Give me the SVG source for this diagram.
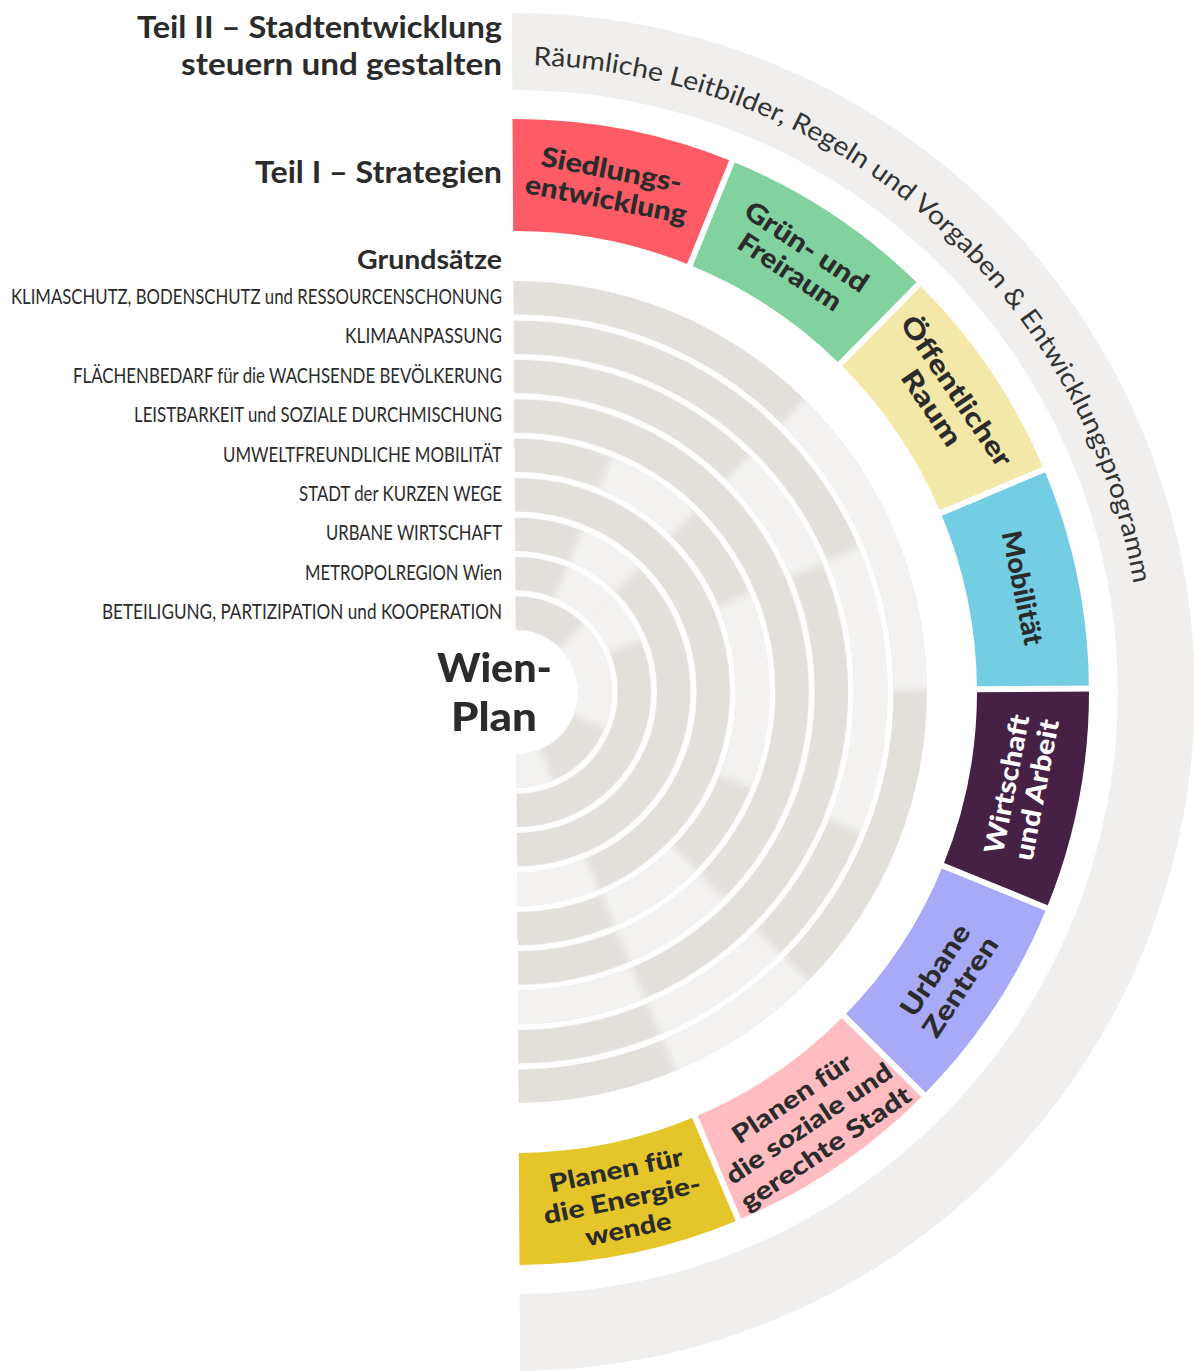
<svg xmlns="http://www.w3.org/2000/svg" xmlns:xlink="http://www.w3.org/1999/xlink" width="1194" height="1371" viewBox="0 0 1194 1371">
  <style>
    .t { font-family: Lato, "Open Sans", "Liberation Sans", sans-serif; fill: #2b2b2b; }
    .title { font-size: 31px; font-weight: 700; }
    .sub { font-size: 26px; font-weight: 700; }
    .gs { font-size: 21px; font-weight: 400; text-anchor: end; }
    .core { font-size: 40px; font-weight: 900; }
    .seg { font-size: 27px; font-weight: 900; text-anchor: middle; }
    .seg3 { font-size: 25px; font-weight: 900; text-anchor: middle; }
    .band-text { font-size: 26px; font-weight: 400; fill: #333; }
    .ring { fill: #e3e0dc; }
    .lit { fill: #f3f2f0; }
    .band { fill: #f0efed; }
  </style>
  <defs>
    <!-- half annuli for the nine Grundsatz rings (centre 516,692) -->
    <path id="ring1" d="M516,281 A411,411 0 0 1 516,1103 L516,1069.5 A377.5,377.5 0 0 0 516,314.5 Z"/>
    <path id="ring2" d="M516,320.4 A371.6,371.6 0 0 1 516,1063.6 L516,1030.1 A338.1,338.1 0 0 0 516,353.9 Z"/>
    <path id="ring3" d="M516,359.8 A332.2,332.2 0 0 1 516,1024.2 L516,990.7 A298.7,298.7 0 0 0 516,393.3 Z"/>
    <path id="ring4" d="M516,399.2 A292.8,292.8 0 0 1 516,984.8 L516,951.3 A259.3,259.3 0 0 0 516,432.7 Z"/>
    <path id="ring5" d="M516,438.6 A253.4,253.4 0 0 1 516,945.4 L516,911.9 A219.9,219.9 0 0 0 516,472.1 Z"/>
    <path id="ring6" d="M516,478 A214,214 0 0 1 516,906 L516,872.5 A180.5,180.5 0 0 0 516,511.5 Z"/>
    <path id="ring7" d="M516,517.4 A174.6,174.6 0 0 1 516,866.6 L516,833.1 A141.1,141.1 0 0 0 516,550.9 Z"/>
    <path id="ring8" d="M516,556.8 A135.2,135.2 0 0 1 516,827.2 L516,793.7 A101.7,101.7 0 0 0 516,590.3 Z"/>
    <path id="ring9" d="M516,596.2 A95.8,95.8 0 0 1 516,787.8 L516,754.3 A62.3,62.3 0 0 0 516,629.7 Z"/>
    <clipPath id="clip1"><use xlink:href="#ring1"/></clipPath>
    <clipPath id="clip2"><use xlink:href="#ring2"/></clipPath>
    <clipPath id="clip3"><use xlink:href="#ring3"/></clipPath>
    <clipPath id="clip4"><use xlink:href="#ring4"/></clipPath>
    <clipPath id="clip5"><use xlink:href="#ring5"/></clipPath>
    <clipPath id="clip6"><use xlink:href="#ring6"/></clipPath>
    <clipPath id="clip7"><use xlink:href="#ring7"/></clipPath>
    <clipPath id="clip8"><use xlink:href="#ring8"/></clipPath>
    <clipPath id="clip9"><use xlink:href="#ring9"/></clipPath>
    <!-- 22.5 degree wedge, rotated into place for each highlighted cell -->
    <path id="wedge" d="M516,692 L516,262 A430,430 0 0 1 680.55,294.73 Z"/>
    <!-- one strategy sector of the coloured ring -->
    <path id="sector" d="M516,119 A573,573 0 0 1 735.28,162.62 L692.42,266.09 A461,461 0 0 0 516,231 Z"/>
    <path id="bandArc" d="M516,65 A627,627 0 0 1 1133.47,800.88"/>
    <filter id="soft" x="-20%" y="-20%" width="140%" height="140%">
      <feGaussianBlur stdDeviation="3.5"/>
    </filter>
  </defs>

  <rect width="1194" height="1371" fill="#fff"/>

  <!-- headings -->
  <g id="headings">
    <text class="t title" x="137" y="37.5" textLength="365" lengthAdjust="spacingAndGlyphs">Teil II – Stadtentwicklung</text>
    <text class="t title" x="181" y="75" textLength="321" lengthAdjust="spacingAndGlyphs">steuern und gestalten</text>
    <text class="t title" x="255" y="183" textLength="247" lengthAdjust="spacingAndGlyphs">Teil I – Strategien</text>
    <text class="t sub" x="357" y="269" textLength="145" lengthAdjust="spacingAndGlyphs">Grundsätze</text>
  </g>

  <g id="disc" transform="rotate(-0.35 516 692)">
    <!-- Teil II: outer band -->
    <g id="teil-2">
      <path class="band" d="M516,13 A679,679 0 0 1 516,1371 L516,1294 A602,602 0 0 0 516,90 Z"/>
      <text class="t band-text"><textPath xlink:href="#bandArc" startOffset="21" textLength="859" lengthAdjust="spacingAndGlyphs">Räumliche Leitbilder, Regeln und Vorgaben &amp; Entwicklungsprogramm</textPath></text>
    </g>

    <!-- Teil I: strategy sectors -->
    <g id="strategien">
      <g id="s-siedlung">
        <use xlink:href="#sector" fill="#fd5b66"/>
        <text class="t seg" transform="rotate(11.25 612 185)"><tspan x="612" y="179.5" textLength="143" lengthAdjust="spacingAndGlyphs">Siedlungs-</tspan><tspan x="612" y="209.5" textLength="164" lengthAdjust="spacingAndGlyphs">entwicklung</tspan></text>
      </g>
      <g id="s-gruen">
        <use xlink:href="#sector" fill="#82d2a0" transform="rotate(22.5 516 692)"/>
        <text class="t seg" transform="rotate(33.75 801 261)"><tspan x="801" y="255.5" textLength="142" lengthAdjust="spacingAndGlyphs">Grün- und</tspan><tspan x="801" y="285.5" textLength="118" lengthAdjust="spacingAndGlyphs">Freiraum</tspan></text>
      </g>
      <g id="s-oeffentlich">
        <use xlink:href="#sector" fill="#f4e8a9" transform="rotate(45 516 692)"/>
        <text class="t seg" transform="rotate(56.25 945.9 402)"><tspan x="945.9" y="396.5" textLength="176" lengthAdjust="spacingAndGlyphs">Öffentlicher</tspan><tspan x="945.9" y="426.5" textLength="86" lengthAdjust="spacingAndGlyphs">Raum</tspan></text>
      </g>
      <g id="s-mobilitaet">
        <use xlink:href="#sector" fill="#73cde3" transform="rotate(67.5 516 692)"/>
        <text class="t seg" transform="rotate(78.75 1023.1 591.1)"><tspan x="1023.1" y="600.6" textLength="116" lengthAdjust="spacingAndGlyphs">Mobilität</tspan></text>
      </g>
      <g id="s-wirtschaft">
        <use xlink:href="#sector" fill="#472145" transform="rotate(90 516 692)"/>
        <text class="t seg" style="fill:#fff" transform="rotate(-78.75 1021 790)"><tspan x="1021" y="784.5" textLength="141" lengthAdjust="spacingAndGlyphs">Wirtschaft</tspan><tspan x="1021" y="814.5" textLength="143" lengthAdjust="spacingAndGlyphs">und Arbeit</tspan></text>
      </g>
      <g id="s-zentren">
        <use xlink:href="#sector" fill="#a9aaf7" transform="rotate(112.5 516 692)"/>
        <text class="t seg" transform="rotate(-56.25 945.9 981)"><tspan x="945.9" y="975.5" textLength="104" lengthAdjust="spacingAndGlyphs">Urbane</tspan><tspan x="945.9" y="1005.5" textLength="114" lengthAdjust="spacingAndGlyphs">Zentren</tspan></text>
      </g>
      <g id="s-sozial">
        <use xlink:href="#sector" fill="#ffbcc1" transform="rotate(135 516 692)"/>
        <text class="t seg3" transform="rotate(-33.75 806 1125)"><tspan x="806" y="1104" textLength="139" lengthAdjust="spacingAndGlyphs">Planen für</tspan><tspan x="806" y="1134" textLength="195" lengthAdjust="spacingAndGlyphs">die soziale und</tspan><tspan x="806" y="1164" textLength="200" lengthAdjust="spacingAndGlyphs">gerechte Stadt</tspan></text>
      </g>
      <g id="s-energie">
        <use xlink:href="#sector" fill="#e4c62b" transform="rotate(157.5 516 692)"/>
        <text class="t seg3" transform="rotate(-11.25 619 1200)"><tspan x="619" y="1179" textLength="136" lengthAdjust="spacingAndGlyphs">Planen für</tspan><tspan x="619" y="1209" textLength="160" lengthAdjust="spacingAndGlyphs">die Energie-</tspan><tspan x="619" y="1239" textLength="87" lengthAdjust="spacingAndGlyphs">wende</tspan></text>
      </g>
      <!-- white gaps between the sectors -->
      <g id="sector-gaps" stroke="#fff" stroke-width="6">
        <line x1="516" y1="237" x2="516" y2="110" transform="rotate(22.5 516 692)"/>
        <line x1="516" y1="237" x2="516" y2="110" transform="rotate(45 516 692)"/>
        <line x1="516" y1="237" x2="516" y2="110" transform="rotate(67.5 516 692)"/>
        <line x1="516" y1="237" x2="516" y2="110" transform="rotate(90 516 692)"/>
        <line x1="516" y1="237" x2="516" y2="110" transform="rotate(112.5 516 692)"/>
        <line x1="516" y1="237" x2="516" y2="110" transform="rotate(135 516 692)"/>
        <line x1="516" y1="237" x2="516" y2="110" transform="rotate(157.5 516 692)"/>
      </g>
    </g>

    <!-- Grundsätze: nine concentric rings with highlighted cells -->
    <g id="grundsaetze">
      <g id="gs-1">
        <use xlink:href="#ring1" class="ring"/>
        <g clip-path="url(#clip1)"><g class="lit" filter="url(#soft)">
          <use xlink:href="#wedge" transform="rotate(45 516 692)"/>
          <use xlink:href="#wedge" transform="rotate(67.5 516 692)"/>
          <use xlink:href="#wedge" transform="rotate(135 516 692)"/>
        </g></g>
      </g>
      <g id="gs-2">
        <use xlink:href="#ring2" class="ring"/>
        <g clip-path="url(#clip2)"><g class="lit" filter="url(#soft)">
          <use xlink:href="#wedge" transform="rotate(67.5 516 692)"/>
          <use xlink:href="#wedge" transform="rotate(90 516 692)"/>
          <use xlink:href="#wedge" transform="rotate(135 516 692)"/>
        </g></g>
      </g>
      <g id="gs-3">
        <use xlink:href="#ring3" class="ring"/>
        <g clip-path="url(#clip3)"><g class="lit" filter="url(#soft)">
          <use xlink:href="#wedge" transform="rotate(45 516 692)"/>
          <use xlink:href="#wedge" transform="rotate(157.5 516 692)"/>
          <use xlink:href="#wedge" transform="rotate(180 516 692)"/>
        </g></g>
      </g>
      <g id="gs-4">
        <use xlink:href="#ring4" class="ring"/>
        <g clip-path="url(#clip4)"><g class="lit" filter="url(#soft)">
          <use xlink:href="#wedge" transform="rotate(135 516 692)"/>
        </g></g>
      </g>
      <g id="gs-5">
        <use xlink:href="#ring5" class="ring"/>
        <g clip-path="url(#clip5)"><g class="lit" filter="url(#soft)">
          <use xlink:href="#wedge" transform="rotate(22.5 516 692)"/>
          <use xlink:href="#wedge" transform="rotate(67.5 516 692)"/>
          <use xlink:href="#wedge" transform="rotate(90 516 692)"/>
          <use xlink:href="#wedge" transform="rotate(135 516 692)"/>
        </g></g>
      </g>
      <g id="gs-6">
        <use xlink:href="#ring6" class="ring"/>
        <g clip-path="url(#clip6)"><g class="lit" filter="url(#soft)">
          <use xlink:href="#wedge" transform="rotate(157.5 516 692)"/>
          <use xlink:href="#wedge" transform="rotate(180 516 692)"/>
        </g></g>
      </g>
      <g id="gs-7">
        <use xlink:href="#ring7" class="ring"/>
        <g clip-path="url(#clip7)"><g class="lit" filter="url(#soft)">
          <use xlink:href="#wedge" transform="rotate(22.5 516 692)"/>
        </g></g>
      </g>
      <g id="gs-8">
        <use xlink:href="#ring8" class="ring"/>
        <g clip-path="url(#clip8)"><g class="lit" filter="url(#soft)">
          <use xlink:href="#wedge" transform="rotate(22.5 516 692)"/>
          <use xlink:href="#wedge" transform="rotate(45 516 692)"/>
        </g></g>
      </g>
      <g id="gs-9">
        <use xlink:href="#ring9" class="ring"/>
        <g clip-path="url(#clip9)"><g class="lit" filter="url(#soft)">
          <use xlink:href="#wedge" transform="rotate(45 516 692)"/>
          <use xlink:href="#wedge" transform="rotate(67.5 516 692)"/>
          <use xlink:href="#wedge" transform="rotate(90 516 692)"/>
          <use xlink:href="#wedge" transform="rotate(157.5 516 692)"/>
          <use xlink:href="#wedge" transform="rotate(180 516 692)"/>
        </g></g>
      </g>
    </g>
  </g>

  <!-- Grundsatz labels, one per ring, right-aligned on x=502 and set narrow -->
  <g id="grundsatz-labels">
    <text class="t gs" transform="translate(502 304) scale(0.86 1)" textLength="571" lengthAdjust="spacingAndGlyphs">KLIMASCHUTZ, BODENSCHUTZ und RESSOURCENSCHONUNG</text>
    <text class="t gs" transform="translate(502 343.4) scale(0.86 1)" textLength="182.6" lengthAdjust="spacingAndGlyphs">KLIMAANPASSUNG</text>
    <text class="t gs" transform="translate(502 382.8) scale(0.86 1)" textLength="498.8" lengthAdjust="spacingAndGlyphs">FLÄCHENBEDARF für die WACHSENDE BEVÖLKERUNG</text>
    <text class="t gs" transform="translate(502 422.2) scale(0.86 1)" textLength="427.9" lengthAdjust="spacingAndGlyphs">LEISTBARKEIT und SOZIALE DURCHMISCHUNG</text>
    <text class="t gs" transform="translate(502 461.6) scale(0.86 1)" textLength="324.4" lengthAdjust="spacingAndGlyphs">UMWELTFREUNDLICHE MOBILITÄT</text>
    <text class="t gs" transform="translate(502 501) scale(0.86 1)" textLength="236" lengthAdjust="spacingAndGlyphs">STADT der KURZEN WEGE</text>
    <text class="t gs" transform="translate(502 540.4) scale(0.86 1)" textLength="204.7" lengthAdjust="spacingAndGlyphs">URBANE WIRTSCHAFT</text>
    <text class="t gs" transform="translate(502 579.8) scale(0.86 1)" textLength="229" lengthAdjust="spacingAndGlyphs">METROPOLREGION Wien</text>
    <text class="t gs" transform="translate(502 619.2) scale(0.86 1)" textLength="465.1" lengthAdjust="spacingAndGlyphs">BETEILIGUNG, PARTIZIPATION und KOOPERATION</text>
  </g>

  <!-- core -->
  <g id="wien-plan">
    <text class="t core" x="437" y="682" textLength="115" lengthAdjust="spacingAndGlyphs">Wien-</text>
    <text class="t core" x="451" y="731" textLength="86" lengthAdjust="spacingAndGlyphs">Plan</text>
  </g>
</svg>
